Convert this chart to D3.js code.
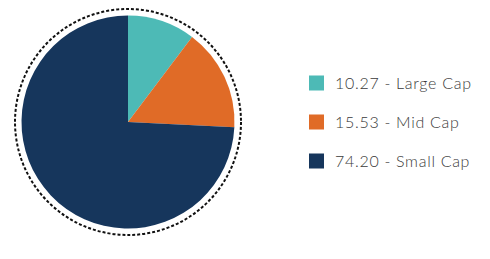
<!DOCTYPE html>
<html>
<head>
<meta charset="utf-8">
<script src="https://cdn.jsdelivr.net/npm/d3@7"></script>
<style>
  body { margin: 0; background: #fff; }
  svg { display: block; }
</style>
</head>
<body>
<div id="chart"></div>
<script>
// data
var categories = ['Large Cap', 'Mid Cap', 'Small Cap']
var values = [10.27, 15.53, 74.20]
var colors = ['#4dbab6', '#e06b27', '#16365c']

var w = 490,
    h = 259,
    cx = 128,
    cy = 122,
    r = 106.5

var svg = d3.select('#chart')
    .append('svg')
    .attr('width', w)
    .attr('height', h)

var color = d3.scaleOrdinal()
    .domain(categories)
    .range(colors)

var pie = d3.pie().sort(null).value(d => d.value)
var arc = d3.arc().innerRadius(0).outerRadius(r)

var rows = categories.map((c, i) => ({ name: c, value: values[i] }))

var g = svg.append('g')
    .attr('transform', `translate(${cx},${cy})`)

// dotted ring
g.append('circle')
    .attr('r', 113)
    .attr('fill', 'none')
    .attr('stroke', '#111')
    .attr('stroke-width', 2)
    .attr('stroke-dasharray', '3,2')

g.selectAll('path')
    .data(pie(rows))
    .enter()
    .append('path')
    .attr('d', arc)
    .attr('fill', d => color(d.data.name))

// legend
var ly = d3.scalePoint()
    .domain(categories)
    .range([83, 161])

var lg = svg.selectAll('.legend')
    .data(rows)
    .enter()
    .append('g')
    .attr('class', 'legend')
    .attr('transform', d => `translate(309,${ly(d.name)})`)

lg.append('rect')
    .attr('y', -7.5)
    .attr('width', 15)
    .attr('height', 15)
    .attr('fill', d => color(d.name))

lg.append('text')
    .attr('x', 26)
    .attr('y', 6)
    .attr('font-family', 'Lato, sans-serif')
    .attr('font-weight', 300)
    .attr('font-size', 16)
    .attr('letter-spacing', 0.7)
    .attr('fill', '#3a3a3a')
    .text(d => d.value.toFixed(2) + ' - ' + d.name)
</script>
</body>
</html>
